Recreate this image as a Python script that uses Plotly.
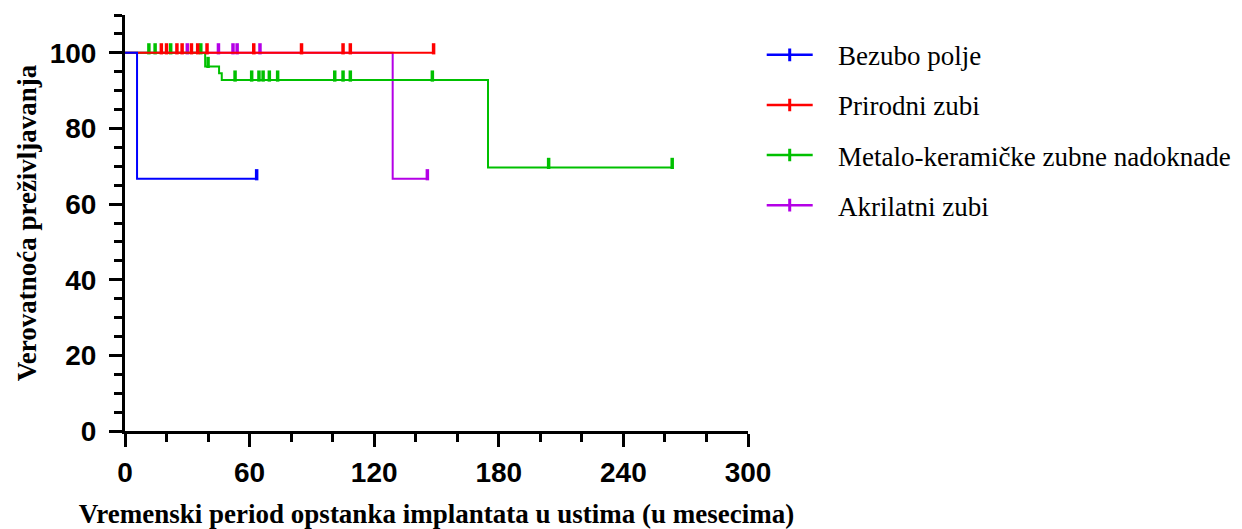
import plotly.graph_objects as go

# ---------------- data ----------------
series_names = ["Bezubo polje", "Prirodni zubi", "Metalo-keramičke zubne nadoknade", "Akrilatni zubi"]
series_colors = ["#0000FF", "#FF0000", "#00C000", "#B400E6"]

# Bezubo polje
blue_event_times = [5.8]
blue_event_surv = [66.7]
blue_end = 63.4
blue_censor = [63.4]

# Prirodni zubi
red_event_times = []
red_event_surv = []
red_end = 148.6
red_censor = [17.5, 20, 25, 27.5, 32, 35, 39.5, 62, 85, 105, 108.5, 148.6]

# Metalo-keramičke zubne nadoknade
green_event_times = [38.6, 45.3, 46.6, 174.8]
green_event_surv = [96.4, 94.6, 92.8, 69.7]
green_end = 264
green_censor = [11.5, 14.5, 22, 36.5, 40, 53, 61, 64.5, 66.5, 69.5, 73.5,
                101, 105, 108.5, 148, 204, 263.5]

# Akrilatni zubi
purple_event_times = [128.9]
purple_event_surv = [66.7]
purple_end = 145.6
purple_censor = [30, 45, 52, 54, 65, 145.6]

x_ticks = [0, 60, 120, 180, 240, 300]
y_ticks = [0, 20, 40, 60, 80, 100]

x_title = "Vremenski period opstanka implantata u ustima (u mesecima)"
y_title = "Verovatnoća preživljavanja"

# ---------------- helpers ----------------
START_SURV = 100
CENSOR_LIFT = 1.06  # raise tick so it sits on top of the line
LEGEND_PAD = "\u00a0\u00a0\u00a0"


def step_xy(times, surv, end):
    xs = [0] + list(times) + [end]
    ys = [START_SURV] + list(surv) + [surv[-1] if surv else START_SURV]
    return xs, ys


def surv_at(t, times, surv):
    v = START_SURV
    for tt, s in zip(times, surv):
        if tt <= t:
            v = s
    return v


series = {
    "Bezubo polje": (blue_event_times, blue_event_surv, blue_end, blue_censor),
    "Prirodni zubi": (red_event_times, red_event_surv, red_end, red_censor),
    "Metalo-keramičke zubne nadoknade": (green_event_times, green_event_surv, green_end, green_censor),
    "Akrilatni zubi": (purple_event_times, purple_event_surv, purple_end, purple_censor),
}
color_of = dict(zip(series_names, series_colors))

fig = go.Figure()

# drawing order (last on top)
draw_order = ["Akrilatni zubi", "Metalo-keramičke zubne nadoknade", "Prirodni zubi", "Bezubo polje"]
for name in draw_order:
    times, surv, end, cens = series[name]
    xs, ys = step_xy(times, surv, end)
    c = color_of[name]
    fig.add_trace(go.Scatter(x=xs, y=ys, mode="lines", line=dict(color=c, width=2, shape="hv"),
                             showlegend=False, hoverinfo="skip"))
    cy = [surv_at(t, times, surv) + CENSOR_LIFT for t in cens]
    fig.add_trace(go.Scatter(x=cens, y=cy, mode="markers",
                             marker=dict(symbol="line-ns", size=8, line=dict(color=c, width=3.5)),
                             showlegend=False, hoverinfo="skip"))

# legend entries
for i, name in enumerate(series_names):
    c = color_of[name]
    fig.add_trace(go.Scatter(x=[None], y=[None], mode="lines+markers", name=LEGEND_PAD + name,
                             legendgroup=f"g{i}",
                             line=dict(color=c, width=2.5),
                             marker=dict(symbol="line-ns", size=9, line=dict(color=c, width=3))))

tick_font = dict(family="Liberation Sans", size=28, color="black", weight="bold")
title_font = dict(family="Liberation Serif", size=27, color="black", weight="bold")

fig.update_layout(
    width=1242, height=529,
    margin=dict(l=125, r=494, t=15, b=98, autoexpand=False),
    paper_bgcolor="white", plot_bgcolor="white",
    legend=dict(x=1.022, y=0.962, xanchor="left", yanchor="top",
                font=dict(family="Liberation Serif", size=27, color="black"),
                tracegroupgap=12, itemwidth=46, bgcolor="rgba(0,0,0,0)"),
)

fig.update_xaxes(
    range=[0, 300], tickvals=x_ticks, ticktext=[str(v) for v in x_ticks],
    showline=True, linecolor="black", linewidth=3,
    ticks="outside", ticklen=13, tickwidth=3, tickcolor="black",
    minor=dict(dtick=20, tick0=0, ticks="outside", ticklen=8, tickwidth=3, tickcolor="black"),
    showgrid=False, zeroline=False, tickfont=tick_font, ticklabelstandoff=1,
    automargin=False,
    title=dict(text=x_title, font=title_font, standoff=29),
)
fig.update_yaxes(
    range=[0, 110], tickvals=y_ticks, ticktext=[str(v) for v in y_ticks],
    showline=True, linecolor="black", linewidth=3,
    ticks="outside", ticklen=13, tickwidth=3, tickcolor="black",
    minor=dict(dtick=5, tick0=0, ticks="outside", ticklen=8, tickwidth=3, tickcolor="black"),
    showgrid=False, zeroline=False, tickfont=tick_font, ticklabelstandoff=7,
    automargin=False,
    title=dict(text=y_title, font=title_font, standoff=6),
)

fig.write_html("out.html")
